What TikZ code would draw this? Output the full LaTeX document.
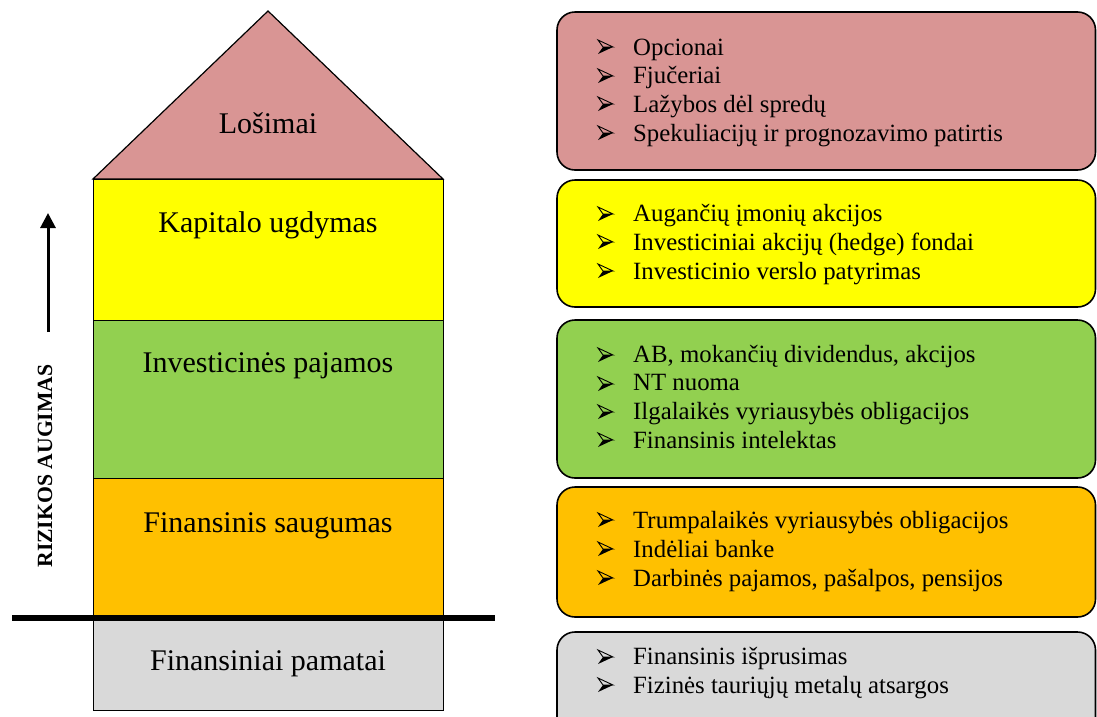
\documentclass[tikz,border=0pt]{standalone}
\usepackage{fontspec}
\setmainfont{Liberation Serif}
\usetikzlibrary{arrows.meta}
\definecolor{cpink}{HTML}{D99594}
\definecolor{cyel}{HTML}{FFFF00}
\definecolor{cgreen}{HTML}{92D050}
\definecolor{corange}{HTML}{FFC000}
\definecolor{cgray}{HTML}{D9D9D9}
\tikzset{
  sec/.style={draw=black, line width=1.2pt, anchor=north west, inner sep=0pt, minimum width=350pt},
  seclabel/.style={anchor=base, inner sep=0pt, font=\fontsize{30}{34}\selectfont},
  listbox/.style={draw=black, line width=1.6pt, rounded corners=18pt},
  listtext/.style={anchor=base west, inner sep=0pt, align=left, font=\fontsize{24.8}{28.6}\selectfont},
  pics/bulletarrow/.style={code={
    \fill[black] (0,0) -- (-15,7) -- (-10,0) -- cycle;
    \draw[black, line width=0.9pt, line join=miter] (0,0) -- (-15,-7) -- (-10,0) -- cycle;
  }}
}
\begin{document}
\begin{tikzpicture}[x=1pt, y=-1pt]
\useasboundingbox (0,0) rectangle (1097,716);
% house
\coordinate (roofL) at (93,179);
\coordinate (roofR) at (443,179);
\coordinate (apex) at (268,11);
\draw[fill=cpink, line width=1.2pt, line join=miter] (roofL) -- (apex) -- (roofR) -- cycle;
\node[sec, fill=cyel, minimum height=141pt] (kap) at (93,179) {};
\node[sec, fill=cgreen, minimum height=158pt] (inv) at (93,320) {};
\node[sec, fill=corange, minimum height=137pt] (fin) at (93,478) {};
\node[sec, fill=cgray, minimum height=95pt] (pam) at (93,615) {};
\node[seclabel] (l1) at (268,133) {Lošimai};
\node[seclabel] (l2) at (268,232) {Kapitalo ugdymas};
\node[seclabel] (l3) at (268,372) {Investicinės pajamos};
\node[seclabel] (l4) at (268,532) {Finansinis saugumas};
\node[seclabel] (l5) at (268,670) {Finansiniai pamatai};
% ground line
\coordinate (gL) at (12,618);
\coordinate (gR) at (495,618);
\draw[line width=6pt] (gL) -- (gR);
% risk arrow
\coordinate (aB) at (48,332);
\coordinate (aT) at (48,213);
\draw[line width=3pt, -{Triangle[length=15pt,width=15pt]}] (aB) -- (aT);
\node[rotate=90, inner sep=0pt, font=\fontsize{21.7}{24}\selectfont\bfseries] (risk) at (45,466) {RIZIKOS AUGIMAS};
% right boxes
\draw[listbox, fill=cpink] (557,12) rectangle (1095.5,170);
\draw[listbox, fill=cyel] (557,180) rectangle (1095.5,307);
\draw[listbox, fill=cgreen] (557,320) rectangle (1095.5,478);
\draw[listbox, fill=corange] (557,487) rectangle (1095.5,617);
\draw[listbox, fill=cgray] (557,632) rectangle (1095.5,760);
% lists (anchored at the baseline of their last line)
\node[listtext] (t1) at (633,141) {Opcionai\\Fjučeriai\\Lažybos dėl spredų\\Spekuliacijų ir prognozavimo patirtis};
\node[listtext] (t2) at (633,279) {Augančių įmonių akcijos\\Investiciniai akcijų (hedge) fondai\\Investicinio verslo patyrimas};
\node[listtext] (t3) at (633,448) {AB, mokančių dividendus, akcijos\\NT nuoma\\Ilgalaikės vyriausybės obligacijos\\Finansinis intelektas};
\node[listtext] (t4) at (633,586) {Trumpalaikės vyriausybės obligacijos\\Indėliai banke\\Darbinės pajamos, pašalpos, pensijos};
\node[listtext] (t5) at (633,693) {Finansinis išprusimas\\Fizinės tauriųjų metalų atsargos};
% bullets
\foreach \b in {55,84,112,141, 222,250,279, 363,392,420,448, 528,557,586, 665,693}
  \pic at (613,\b-8) {bulletarrow};
\end{tikzpicture}
\end{document}
